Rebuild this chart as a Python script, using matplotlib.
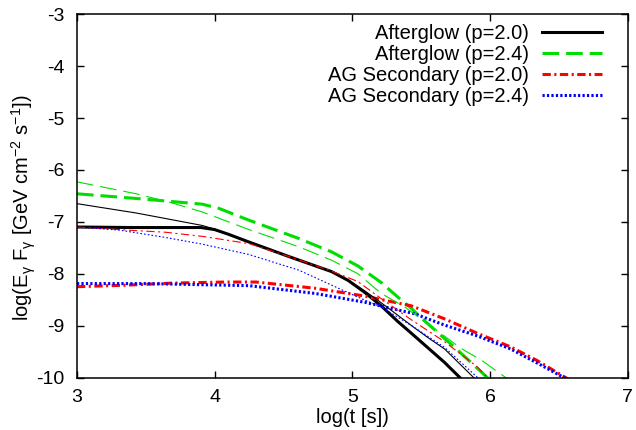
import matplotlib
matplotlib.use("Agg")
import matplotlib.pyplot as plt

# Afterglow (p=2.0) : thick = black solid, thin companion
ag20_x = [3.0, 3.4, 3.9, 4.0, 4.1, 4.25, 4.54, 4.85, 4.97, 5.09, 5.21, 5.33, 5.43, 5.55, 5.67, 5.80]
ag20_y = [-7.10, -7.11, -7.11, -7.15, -7.24, -7.39, -7.67, -7.96, -8.13, -8.36, -8.62, -8.92, -9.15, -9.43, -9.71, -10.05]
ag20t_x = [3.0, 3.43, 3.91, 4.0, 4.25, 4.54, 4.85, 4.97, 5.09, 5.19, 5.33, 5.45, 5.57, 5.67, 5.90]
ag20t_y = [-6.65, -6.83, -7.07, -7.14, -7.39, -7.67, -7.96, -8.12, -8.33, -8.52, -8.80, -9.04, -9.27, -9.45, -10.05]

# Afterglow (p=2.4)
ag24_x = [3.0, 3.43, 3.91, 4.03, 4.25, 4.61, 4.85, 5.04, 5.21, 5.33, 5.43, 5.5, 5.67, 5.74, 6.0]
ag24_y = [-6.46, -6.55, -6.66, -6.74, -6.97, -7.32, -7.58, -7.85, -8.17, -8.45, -8.67, -8.85, -9.25, -9.41, -10.05]
ag24t_x = [3.0, 3.43, 3.67, 3.91, 4.25, 4.61, 4.85, 5.04, 5.21, 5.38, 5.5, 5.79, 5.94, 6.14]
ag24t_y = [-6.23, -6.46, -6.62, -6.81, -7.15, -7.48, -7.74, -8.0, -8.38, -8.64, -8.87, -9.44, -9.67, -10.05]

# AG Secondary (p=2.0)
sec20_x = [3.0, 3.36, 3.7, 4.08, 4.3, 4.73, 5.09, 5.43, 5.67, 5.91, 6.15, 6.34, 6.58]
sec20_y = [-8.25, -8.22, -8.18, -8.16, -8.16, -8.28, -8.43, -8.62, -8.87, -9.15, -9.41, -9.67, -10.05]
sec20t_x = [3.0, 3.43, 3.64, 3.91, 4.25, 4.54, 4.85, 5.04, 5.21, 5.43, 5.67, 5.91, 6.0]
sec20t_y = [-7.10, -7.17, -7.20, -7.28, -7.42, -7.67, -7.95, -8.15, -8.48, -8.89, -9.31, -9.80, -10.05]

# AG Secondary (p=2.4)
sec24_x = [3.0, 3.5, 4.08, 4.25, 4.73, 5.09, 5.45, 5.67, 5.91, 6.15, 6.37, 6.57]
sec24_y = [-8.19, -8.19, -8.22, -8.23, -8.38, -8.55, -8.77, -8.99, -9.20, -9.45, -9.76, -10.05]
sec24t_x = [3.0, 3.31, 3.64, 3.91, 4.25, 4.61, 4.85, 5.04, 5.21, 5.43, 5.67, 5.93]
sec24t_y = [-7.10, -7.16, -7.30, -7.43, -7.63, -7.93, -8.22, -8.45, -8.64, -9.0, -9.42, -10.05]

labels = ['Afterglow (p=2.0)', 'Afterglow (p=2.4)', 'AG Secondary (p=2.0)', 'AG Secondary (p=2.4)']

plt.rcParams['font.family'] = ['Liberation Sans', 'DejaVu Sans']
plt.rcParams['mathtext.fontset'] = 'custom'
plt.rcParams['mathtext.rm'] = 'Liberation Sans'
plt.rcParams['mathtext.it'] = 'Liberation Sans'
plt.rcParams['lines.scale_dashes'] = False
plt.rcParams['axes.unicode_minus'] = False

fig = plt.figure(figsize=(6.36, 4.30), dpi=100)
ax = fig.add_axes([0.121, 0.122, 0.866, 0.845])

thick = 2.2
thin = 0.8
green = '#00dd00'

ax.plot(ag20_x, ag20_y, color='black', lw=thick, label=labels[0])
ax.plot(ag24_x, ag24_y, color=green, lw=thick, dashes=(12, 5), label=labels[1])
ax.plot(sec20_x, sec20_y, color='red', lw=thick, dashes=(6, 2.5, 1.5, 2.5), label=labels[2])
ax.plot(sec24_x, sec24_y, color='blue', lw=thick, dashes=(1.6, 1.6), label=labels[3])

ax.plot(ag20t_x, ag20t_y, color='black', lw=thin)
ax.plot(ag24t_x, ag24t_y, color=green, lw=thin, dashes=(12, 5))
ax.plot(sec20t_x, sec20t_y, color='red', lw=thin, dashes=(6, 2.5, 1.5, 2.5))
ax.plot(sec24t_x, sec24t_y, color='blue', lw=thin, dashes=(1.2, 1.5))

ax.set_xlim(3, 7)
ax.set_ylim(-10, -3)
ax.set_xticks([3, 4, 5, 6, 7])
ax.set_yticks([-10, -9, -8, -7, -6, -5, -4, -3])
ax.tick_params(direction='in', top=True, right=True, length=5, width=1, labelsize=14)
ax.tick_params(axis='y', pad=9)
ax.tick_params(axis='x', pad=8)
for s in ax.spines.values():
    s.set_linewidth(1.1)

ax.set_xlabel('log(t [s])', fontsize=14.5)
ax.set_ylabel(r'log(E$_\gamma$ F$_\gamma$ [GeV cm$^{-2}$ s$^{-1}$])', fontsize=14.5)
ax.xaxis.set_label_coords(0.5, -0.085)
ax.yaxis.set_label_coords(-0.071, 0.466)

ax.legend(loc='upper right', bbox_to_anchor=(0.964, 0.99), frameon=False, markerfirst=False,
          fontsize=14.5, handlelength=2.95, labelspacing=0.1, borderaxespad=0.0,
          handletextpad=0.65, borderpad=0.3)

fig.savefig('out.png', dpi=100)
